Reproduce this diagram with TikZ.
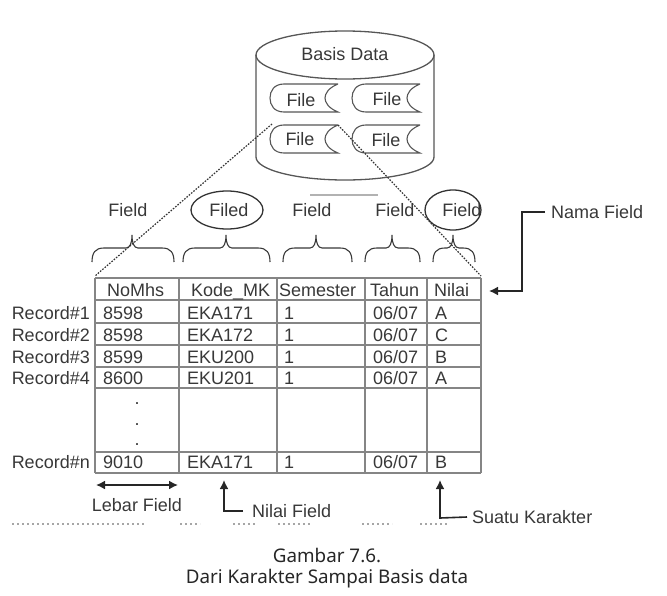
\documentclass[tikz,border=0pt]{standalone}
\usepackage{fontspec}
\setmainfont{Liberation Sans}
\newfontfamily\capfont{Noto Sans}
\usetikzlibrary{arrows.meta}
\definecolor{ink}{gray}{0.22}
\definecolor{grid}{gray}{0.52}
\tikzset{
  x=1pt,y=-1pt,
  txt/.style={font=\fontsize{18}{20}\selectfont,text=ink,inner sep=0pt},
  cell/.style={txt,anchor=base west},
  rec/.style={txt,anchor=base east},
  gridline/.style={draw=grid,line width=1.8pt},
  outline/.style={draw=ink!85,line width=1.3pt},
  brace/.style={draw=ink,line width=1.1pt},
  dots/.style={draw=black!80,line width=1.2pt,dash pattern=on 1.6pt off 1.4pt},
  arrowline/.style={draw=black!85,line width=1.6pt,-{Latex[length=9pt,width=9pt]}},
  dblarrow/.style={draw=black!85,line width=1.6pt,{Latex[length=9pt,width=9pt]}-{Latex[length=9pt,width=9pt]}},
  circ/.style={draw=black!80,line width=1.3pt},
  capt/.style={font=\capfont\fontsize{18.8}{20}\selectfont,text=black!85,inner sep=0pt},
  smudge/.style={draw=gray!60,line width=1.2pt},
  specks/.style={draw=gray!70,line width=1.2pt,dash pattern=on 2pt off 3pt},
}
\begin{document}
\begin{tikzpicture}
\useasboundingbox (0,0) rectangle (667,595);
% database cylinder
\draw[outline] (256,55) -- (256,157) arc[start angle=180,end angle=360,x radius=89,y radius=-23] -- (434,55);
\draw[outline] (345,55) ellipse[x radius=89,y radius=24];
\node[txt] (db) at (345,54) {Basis Data};
% files
\foreach \n/\x/\y in {a/270/84,b/352/84,c/270/125,d/352/125}{
  \draw[outline,line width=1.1pt] (\x+68,\y) -- (\x+14,\y) .. controls (\x+4,\y) and (\x,\y+7) .. (\x,\y+14)
    .. controls (\x,\y+21) and (\x+4,\y+28) .. (\x+14,\y+28) -- (\x+68,\y+28)
    .. controls (\x+58,\y+24) and (\x+55,\y+18) .. (\x+55,\y+14)
    .. controls (\x+55,\y+10) and (\x+58,\y+4) .. (\x+68,\y);
}
\node[txt] (file1) at (301,100) {File};
\node[txt] (file2) at (387,99) {File};
\node[txt] (file3) at (300,139) {File};
\node[txt] (file4) at (386,140) {File};
% remnant stroke below the cylinder
\draw[smudge] (310,195) -- (378,195);
% field labels
\node[txt] (h1) at (128,210) {Field};
\node[txt] (h2) at (229,210) {Filed};
\node[txt] (h3) at (312,210) {Field};
\node[txt] (h4) at (395,210) {Field};
\node[txt] (h5) at (462,210) {Field};
\draw[circ] (227,210) ellipse[x radius=36,y radius=19];
\draw[circ] (453,210) ellipse[x radius=28,y radius=20];
% braces
\foreach \l/\m/\r in {92/132/174,183/226/270,283/316/352,365/392/420,433/453/475}{
  \draw[brace] (\l,262) .. controls (\l,253) and (\l+3,248) .. (\l+12,248) -- (\m-6,248)
    .. controls (\m-2,248) and (\m,243) .. (\m,235)
    .. controls (\m,243) and (\m+2,248) .. (\m+6,248) -- (\r-12,248)
    .. controls (\r-3,248) and (\r,253) .. (\r,262);
}
% grid
\foreach \y in {278,300,323,345,367,388,452,473}{\draw[gridline] (95,\y) -- (481,\y);}
\foreach \x in {95,179,277,365,427,481}{\draw[gridline] (\x,278) -- (\x,473);}
% dotted zoom lines
\coordinate (zl1) at (272,124);
\coordinate (zl2) at (95,276);
\coordinate (zr1) at (338,125);
\coordinate (zr2) at (481,276);
\draw[dots] (zl1) -- (zl2);
\draw[dots] (zr1) -- (zr2);
% header
\node[cell] (c01) at (107,296) {NoMhs};
\node[cell] (c02) at (191,296) {Kode\_MK};
\node[cell] (c03) at (279,296) {Semester};
\node[cell] (c04) at (370,296) {Tahun};
\node[cell] (c05) at (434,296) {Nilai};
% rows
\foreach \i/\y/\r/\a/\b/\c/\d/\e in {
  1/319/Record\#1/8598/EKA171/1/06\slash 07/A,
  2/341/Record\#2/8598/EKA172/1/06\slash 07/C,
  3/363/Record\#3/8599/EKU200/1/06\slash 07/B,
  4/384/Record\#4/8600/EKU201/1/06\slash 07/A,
  5/468/Record\#n/9010/EKA171/1/06\slash 07/B}{
  \node[rec]  (r\i)  at (90,\y) {\r};
  \node[cell] (a\i)  at (103,\y) {\a};
  \node[cell] (b\i)  at (187,\y) {\b};
  \node[cell] (c\i)  at (284,\y) {\c};
  \node[cell] (d\i)  at (373,\y) {\d};
  \node[cell] (e\i)  at (435,\y) {\e};
}
% ellipsis dots
\node[txt] (ell1) at (137,404) {.};
\node[txt] (ell2) at (137,425) {.};
\node[txt] (ell3) at (137,445) {.};
% annotations
\node[txt,anchor=west] (nama) at (551,212) {Nama Field};
\node[txt] (lebar) at (137,505) {Lebar Field};
\node[txt,anchor=west] (nilai) at (252,511) {Nilai Field};
\node[txt,anchor=west] (karakter) at (472,517) {Suatu Karakter};
\coordinate (namaT) at (489,291);
\draw[arrowline] (nama.west) ++(-6,0) -- (522,212) -- (522,291) -- (namaT);
\coordinate (lebarL) at (96,485);
\coordinate (lebarR) at (178,485);
\draw[dblarrow] (lebarL) -- (lebarR);
\coordinate (nilaiT) at (224,480);
\draw[arrowline] (nilai.west) ++(-9,0) -- (224,511) -- (nilaiT);
\coordinate (karT) at (440,480);
\draw[arrowline] (karakter.west) ++(-5,0) -- (440,518) -- (karT);
% specks along the scan edge
\foreach \a/\b in {12/145,180/200,233/255,278/312,362/392,420/447}{\draw[specks] (\a,524) -- (\b,524);}
% caption
\node[capt] (cap1) at (327,555) {Gambar 7.6.};
\node[capt] (cap2) at (327,579) {Dari Karakter Sampai Basis data};
\end{tikzpicture}
\end{document}
